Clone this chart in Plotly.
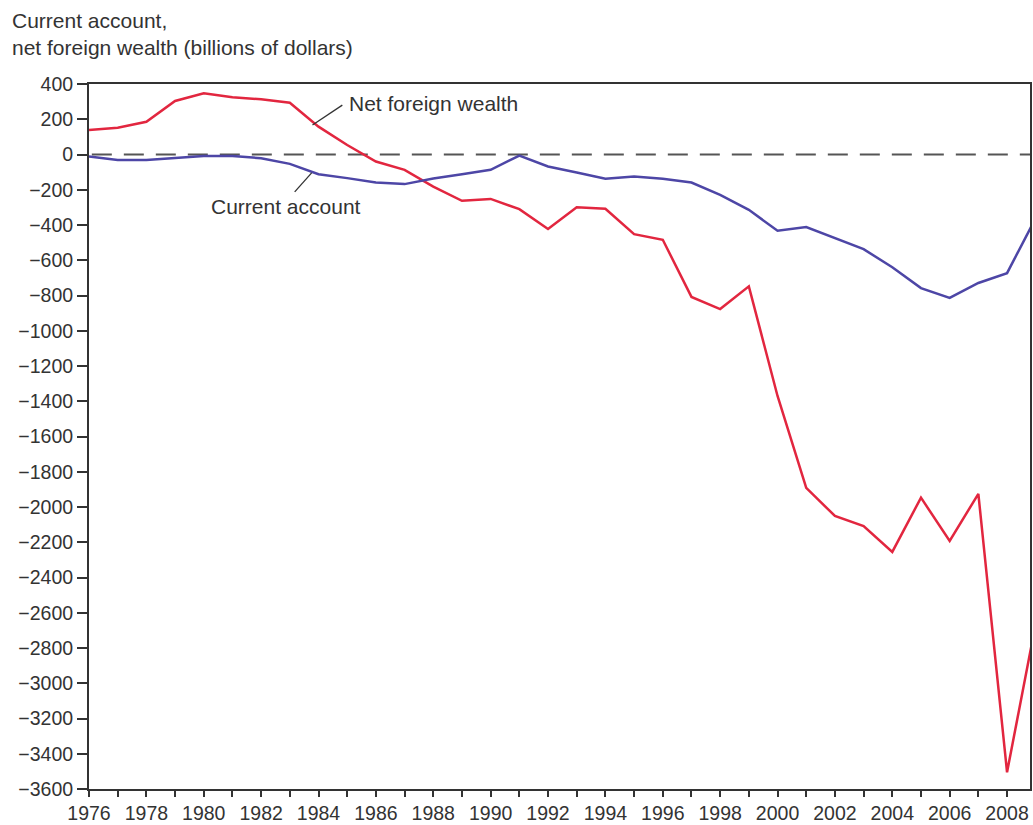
import plotly.graph_objects as go

years = list(range(1976, 2010))
current_account = [-12, -31, -31, -21, -8, -8, -21, -53, -112, -134, -159, -168, -136,
                   -112, -87, -6, -68, -102, -138, -125, -138, -159, -229, -314, -433,
                   -412, -473, -537, -640, -758, -814, -729, -673, -360]
net_foreign_wealth = [139, 152, 186, 304, 347, 325, 313, 294, 158, 54, -40, -87, -182,
                      -263, -252, -310, -423, -299, -308, -452, -484, -808, -877, -748,
                      -1370, -1891, -2051, -2108, -2255, -1947, -2193, -1925, -3505, -2660]

x_tickvals = list(range(1976, 2010))
x_ticktext = [str(y) if (y - 1976) % 2 == 0 else "" for y in x_tickvals]
y_tickvals = list(range(-3600, 401, 200))

RED = "#e2263f"
BLUE = "#4d46a6"
TXT = "#333333"
FONT = "Liberation Sans, Arial, sans-serif"

fig = go.Figure()
fig.add_trace(go.Scatter(x=years, y=net_foreign_wealth, mode="lines",
                         line=dict(color=RED, width=2.5), name="Net foreign wealth"))
fig.add_trace(go.Scatter(x=years, y=current_account, mode="lines",
                         line=dict(color=BLUE, width=2.5), name="Current account"))

# zero dashed line
fig.add_shape(type="line", xref="paper", x0=0.003, x1=1, yref="y", y0=0, y1=0,
              line=dict(color="#555555", width=2, dash="20px,12px"), layer="below")

# leader lines
fig.add_shape(type="line", x0=1983.79, y0=167, x1=1984.83, y1=280,
              line=dict(color=TXT, width=1.3))
fig.add_shape(type="line", x0=1983.17, y0=-212, x1=1983.76, y1=-104,
              line=dict(color=TXT, width=1.3))

fig.add_annotation(x=1985.01, y=292, text="Net foreign wealth", showarrow=False,
                   xanchor="left", yanchor="middle", font=dict(size=21, color=TXT, family=FONT))
fig.add_annotation(x=1980.17, y=-297, text="Current account", showarrow=False,
                   xanchor="left", yanchor="middle", font=dict(size=21, color=TXT, family=FONT))

fig.add_annotation(xref="paper", yref="paper", x=(10 - 89) / 943, y=(790 - 7) / 706,
                   text="Current account,<br>net foreign wealth (billions of dollars)",
                   showarrow=False, xanchor="left", yanchor="top", align="left",
                   font=dict(size=21, color=TXT, family=FONT))

fig.update_layout(
    width=1033, height=825,
    margin=dict(l=89, r=1, t=84, b=35),
    paper_bgcolor="white", plot_bgcolor="white",
    showlegend=False,
    font=dict(family=FONT, size=19.5, color=TXT),
)
fig.update_xaxes(range=[1976, 2008.8], tickvals=x_tickvals, ticktext=x_ticktext,
                 showgrid=False, zeroline=False, showline=True, linecolor="#333333",
                 linewidth=2, mirror=True, ticks="outside", ticklen=6, tickwidth=1.5,
                 tickcolor="#333333", tickfont=dict(size=19.5, color=TXT, family=FONT))
fig.update_yaxes(range=[-3600, 400], tickvals=y_tickvals,
                 showgrid=False, zeroline=False, showline=True, linecolor="#333333",
                 linewidth=2, mirror=True, ticks="outside", ticklen=10, tickwidth=1.5,
                 tickcolor="#333333", tickfont=dict(size=19.5, color=TXT, family=FONT))

fig.write_html("out.html", config={"displayModeBar": False},
               post_script="document.body.style.margin='0';document.body.style.overflow='hidden';")
